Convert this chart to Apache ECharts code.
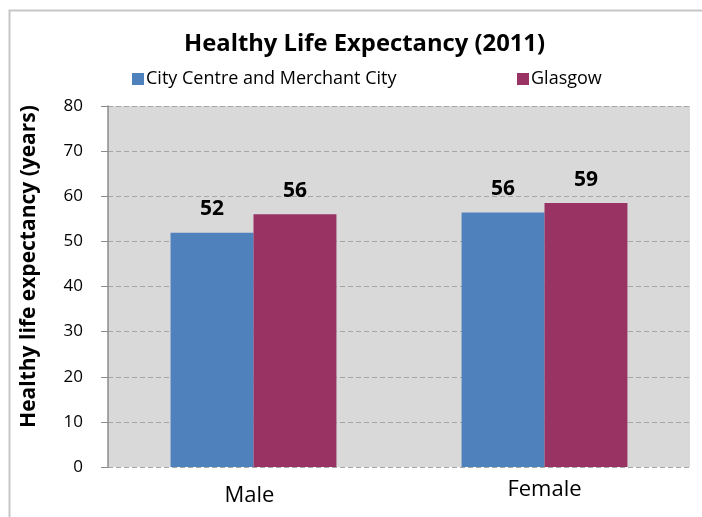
<!DOCTYPE html>
<html><head><meta charset="utf-8">
<script src="https://cdn.jsdelivr.net/npm/echarts@6/dist/echarts.min.js"></script>
<style>html,body{margin:0;padding:0;background:#fff}#c{width:702px;height:517px}</style>
</head><body><div id="c"></div>
<script>
const categories = ["Male", "Female"];
const seriesNames = ["City Centre and Merchant City", "Glasgow"];
const cityCentre = [51.9, 56.4];
const glasgow = [56.0, 58.5];
const yTicks = [0, 10, 20, 30, 40, 50, 60, 70, 80];

const font = "'Open Sans', 'Liberation Sans', sans-serif";
const chart = echarts.init(document.getElementById('c'), null, {renderer: 'canvas'});
const legendBase = {
  top: 65, itemWidth: 12, itemHeight: 12, icon: 'rect', itemGap: 0,
  textStyle: {fontFamily: font, fontSize: 18, color: '#000', padding: [0, 0, 0, -3]}
};
chart.setOption({
  animation: false,
  backgroundColor: '#ffffff',
  graphic: [{
    type: 'rect', left: 7, top: 8, shape: {width: 720, height: 540},
    style: {fill: 'none', stroke: '#c6c6c6', lineWidth: 2}, z: 0
  }],
  title: {
    text: 'Healthy Life Expectancy (2011)', left: 179, top: 27,
    textStyle: {fontFamily: font, fontSize: 23.8, fontWeight: 'bold', color: '#000'}
  },
  legend: [
    Object.assign({}, legendBase, {data: [seriesNames[0]], left: 127}),
    Object.assign({}, legendBase, {data: [seriesNames[1]], left: 512})
  ],
  grid: {left: 108, right: 12, top: 106, bottom: 50, containLabel: false,
         show: true, backgroundColor: '#d9d9d9', borderWidth: 0},
  xAxis: {
    type: 'category', data: categories,
    axisLine: {show: false}, axisTick: {show: false},
    axisLabel: {fontFamily: font, fontSize: 22, color: '#000', margin: 12,
      formatter: v => v === categories[0] ? '{m|' + v + '}' : '{f|' + v + '}',
      rich: {
        m: {fontFamily: font, fontSize: 22, color: '#000', padding: [6, 8, 0, 0]},
        f: {fontFamily: font, fontSize: 22, color: '#000', padding: [0, 0, 0, 0]}
      }}
  },
  yAxis: {
    type: 'value', min: 0, max: 80, interval: 10,
    name: 'Healthy life expectancy (years)', nameLocation: 'middle', nameGap: 68, nameRotate: 90,
    nameTextStyle: {fontFamily: font, fontSize: 21, fontWeight: 'bold', color: '#000', padding: [0, 0, 0, 40]},
    axisLine: {show: true, lineStyle: {color: '#8c8c8c', width: 1.5}},
    axisTick: {show: true, length: 7, lineStyle: {color: '#8c8c8c'}},
    axisLabel: {fontFamily: font, fontSize: 17, color: '#000', margin: 25,
      formatter: v => yTicks.includes(v) ? String(v) : ''},
    splitLine: {show: true, lineStyle: {color: '#a6a6a6', type: [5, 3], width: 1.2}}
  },
  series: [
    {name: seriesNames[0], type: 'bar', data: cityCentre, barGap: '0%', barCategoryGap: '43%',
     itemStyle: {color: '#4f81bd'},
     label: {show: true, position: 'top', distance: 13, fontFamily: font, fontSize: 21, fontWeight: 'bold', color: '#000',
       formatter: p => Math.round(p.value)}},
    {name: seriesNames[1], type: 'bar', data: glasgow,
     itemStyle: {color: '#993363'},
     label: {show: true, position: 'top', distance: 13, fontFamily: font, fontSize: 21, fontWeight: 'bold', color: '#000',
       formatter: p => Math.round(p.value)}}
  ]
});
</script></body></html>
